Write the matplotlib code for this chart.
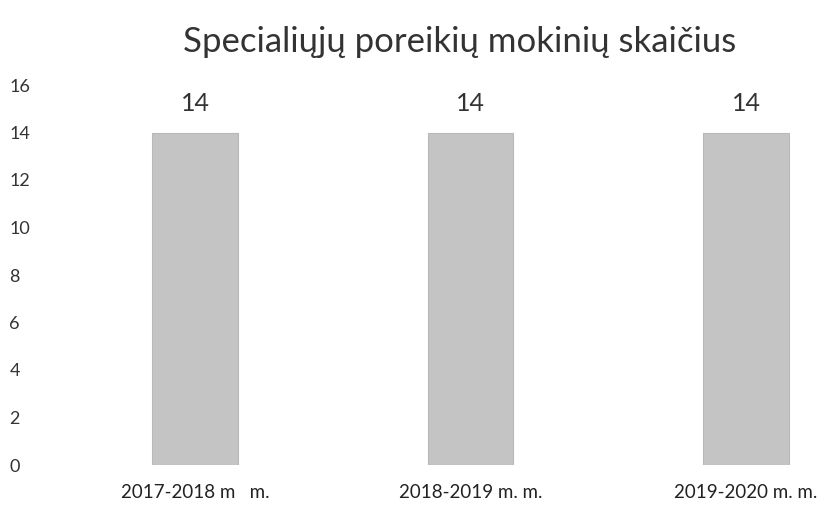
import numpy as np
import matplotlib.pyplot as plt

plt.rcParams['font.family'] = ['Lato', 'DejaVu Sans']

# duomenys
metai = ["2017-2018 m   m.", "2018-2019 m. m.", "2019-2020 m. m."]
mokiniai = [14, 14, 14]
y_ticks = [0, 2, 4, 6, 8, 10, 12, 14, 16]

fig = plt.figure(figsize=(8.29, 5.13), dpi=100)
ax = fig.add_axes([40 / 829, 1 - 465 / 513, 1 - 40 / 829, (465 - 85) / 513])

x = np.arange(len(metai))
bars = ax.bar(x, mokiniai, width=0.31, color="#c4c4c4", edgecolor="#b8b8b8", linewidth=0.8)

for b, v in zip(bars, mokiniai):
    ax.text(b.get_x() + b.get_width() / 2, v + 0.75, str(v), ha="center", va="bottom",
            fontsize=18, color="#333333")

ax.set_ylim(0, 16)
ax.set_xlim((40 - 195) / 275.5, (829 - 195) / 275.5)
ax.set_yticks(y_ticks)
ax.set_yticklabels([str(t) for t in y_ticks], fontsize=13, color="#333333", ha="left")
ax.set_xticks(x)
ax.set_xticklabels(metai, fontsize=13.5, color="#222222")
ax.tick_params(axis="y", length=0, pad=22)
ax.tick_params(axis="x", length=0, pad=14)
for s in ax.spines.values():
    s.set_visible(False)

fig.text(0.555, 0.918, "Specialiųjų poreikių mokinių skaičius", ha="center", va="center",
         fontsize=25, color="#333333")

fig.savefig("out.png", dpi=100)
